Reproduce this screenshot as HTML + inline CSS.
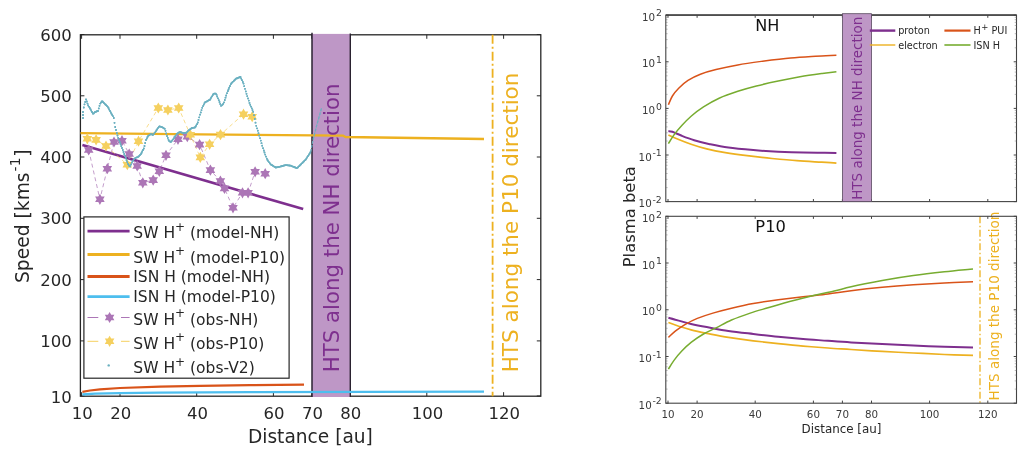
<!DOCTYPE html>
<html><head><meta charset="utf-8"><title>Figure</title>
<style>
html,body{margin:0;padding:0;background:#fff;}
svg{display:block;font-family:"DejaVu Sans","Liberation Sans",sans-serif;}
</style></head>
<body>
<svg width="1020" height="450" viewBox="0 0 1020 450">
<rect width="1020" height="450" fill="#fff"/>
<rect x="80.4" y="34.8" width="460.4" height="361.4" fill="none" stroke="#262626" stroke-width="1.3"/>
<line x1="81.6" y1="396.2" x2="81.6" y2="392.2" stroke="#262626" stroke-width="1"/>
<line x1="81.6" y1="34.8" x2="81.6" y2="38.8" stroke="#262626" stroke-width="1"/>
<text x="82.3" y="419" font-size="16.5" text-anchor="middle" fill="#262626">10</text>
<line x1="120.0" y1="396.2" x2="120.0" y2="392.2" stroke="#262626" stroke-width="1"/>
<line x1="120.0" y1="34.8" x2="120.0" y2="38.8" stroke="#262626" stroke-width="1"/>
<text x="120.7" y="419" font-size="16.5" text-anchor="middle" fill="#262626">20</text>
<line x1="196.7" y1="396.2" x2="196.7" y2="392.2" stroke="#262626" stroke-width="1"/>
<line x1="196.7" y1="34.8" x2="196.7" y2="38.8" stroke="#262626" stroke-width="1"/>
<text x="197.4" y="419" font-size="16.5" text-anchor="middle" fill="#262626">40</text>
<line x1="273.4" y1="396.2" x2="273.4" y2="392.2" stroke="#262626" stroke-width="1"/>
<line x1="273.4" y1="34.8" x2="273.4" y2="38.8" stroke="#262626" stroke-width="1"/>
<text x="274.1" y="419" font-size="16.5" text-anchor="middle" fill="#262626">60</text>
<line x1="311.8" y1="396.2" x2="311.8" y2="392.2" stroke="#262626" stroke-width="1"/>
<line x1="311.8" y1="34.8" x2="311.8" y2="38.8" stroke="#262626" stroke-width="1"/>
<text x="312.5" y="419" font-size="16.5" text-anchor="middle" fill="#262626">70</text>
<line x1="350.1" y1="396.2" x2="350.1" y2="392.2" stroke="#262626" stroke-width="1"/>
<line x1="350.1" y1="34.8" x2="350.1" y2="38.8" stroke="#262626" stroke-width="1"/>
<text x="350.8" y="419" font-size="16.5" text-anchor="middle" fill="#262626">80</text>
<line x1="426.8" y1="396.2" x2="426.8" y2="392.2" stroke="#262626" stroke-width="1"/>
<line x1="426.8" y1="34.8" x2="426.8" y2="38.8" stroke="#262626" stroke-width="1"/>
<text x="427.5" y="419" font-size="16.5" text-anchor="middle" fill="#262626">100</text>
<line x1="503.6" y1="396.2" x2="503.6" y2="392.2" stroke="#262626" stroke-width="1"/>
<line x1="503.6" y1="34.8" x2="503.6" y2="38.8" stroke="#262626" stroke-width="1"/>
<text x="504.3" y="419" font-size="16.5" text-anchor="middle" fill="#262626">120</text>
<line x1="80.4" y1="396.0" x2="84.4" y2="396.0" stroke="#262626" stroke-width="1"/>
<line x1="540.8" y1="396.0" x2="536.8" y2="396.0" stroke="#262626" stroke-width="1"/>
<text x="71.8" y="403.2" font-size="16.5" text-anchor="end" fill="#262626">10</text>
<line x1="80.4" y1="340.9" x2="84.4" y2="340.9" stroke="#262626" stroke-width="1"/>
<line x1="540.8" y1="340.9" x2="536.8" y2="340.9" stroke="#262626" stroke-width="1"/>
<text x="71.8" y="347.0" font-size="16.5" text-anchor="end" fill="#262626">100</text>
<line x1="80.4" y1="279.6" x2="84.4" y2="279.6" stroke="#262626" stroke-width="1"/>
<line x1="540.8" y1="279.6" x2="536.8" y2="279.6" stroke="#262626" stroke-width="1"/>
<text x="71.8" y="285.7" font-size="16.5" text-anchor="end" fill="#262626">200</text>
<line x1="80.4" y1="218.3" x2="84.4" y2="218.3" stroke="#262626" stroke-width="1"/>
<line x1="540.8" y1="218.3" x2="536.8" y2="218.3" stroke="#262626" stroke-width="1"/>
<text x="71.8" y="224.4" font-size="16.5" text-anchor="end" fill="#262626">300</text>
<line x1="80.4" y1="157.0" x2="84.4" y2="157.0" stroke="#262626" stroke-width="1"/>
<line x1="540.8" y1="157.0" x2="536.8" y2="157.0" stroke="#262626" stroke-width="1"/>
<text x="71.8" y="163.1" font-size="16.5" text-anchor="end" fill="#262626">400</text>
<line x1="80.4" y1="95.8" x2="84.4" y2="95.8" stroke="#262626" stroke-width="1"/>
<line x1="540.8" y1="95.8" x2="536.8" y2="95.8" stroke="#262626" stroke-width="1"/>
<text x="71.8" y="101.9" font-size="16.5" text-anchor="end" fill="#262626">500</text>
<line x1="80.4" y1="34.5" x2="84.4" y2="34.5" stroke="#262626" stroke-width="1"/>
<line x1="540.8" y1="34.5" x2="536.8" y2="34.5" stroke="#262626" stroke-width="1"/>
<text x="71.8" y="40.6" font-size="16.5" text-anchor="end" fill="#262626">600</text>
<rect x="312" y="33.9" width="38.3" height="363.1" fill="#be97c6"/>
<line x1="312" y1="32.8" x2="312" y2="397" stroke="#2a2230" stroke-width="1.5"/>
<line x1="350.3" y1="33.5" x2="350.3" y2="397" stroke="#2a2230" stroke-width="1.4"/>
<polyline points="80.5,133.2 200,134.4 343,135.6 345.5,137 484,139" fill="none" stroke="#EDB120" stroke-width="2.3"/>
<polyline points="82.4,145 303.2,209.1" fill="none" stroke="#7E2F8E" stroke-width="2.6"/>
<polyline points="82.4,391.8 90.0,390.5 100.0,389.4 120.0,388.0 160.0,386.7 200.0,385.8 250.0,385.1 304.0,384.6" fill="none" stroke="#D95319" stroke-width="2.2"/>
<polyline points="82.4,394.5 95.0,393.7 120.0,393.1 160.0,392.6 250.0,392.1 484.0,391.7" fill="none" stroke="#4DBEEE" stroke-width="2.3"/>
<polyline points="88.7,150.0 99.9,199.3 107.3,168.7 114.0,142.0 122.0,140.7 129.2,154.0 137.2,166.0 142.8,182.8 153.2,180.1 159.3,171.3 166.0,155.3 178.0,139.3 187.3,136.7 199.6,144.6 210.4,170.1 220.4,181.0 224.5,188.4 233.0,207.8 242.5,192.8 248.1,192.8 255.1,171.8 265.2,173.7" fill="none" stroke="#ac76b6" stroke-width="0.9" stroke-dasharray="4 3" opacity="0.8"/>
<polyline points="87.3,138.8 96.1,139.9 106.0,146.0 127.3,164.7 138.5,141.2 158.3,108.0 167.9,110.0 178.7,108.0 190.3,134.8 200.3,157.4 209.6,144.3 220.5,134.6 243.5,114.2 252.2,116.7" fill="none" stroke="#f5d05f" stroke-width="0.9" stroke-dasharray="4 3" opacity="0.8"/>
<polygon points="88.7,144.4 90.3,147.2 93.5,147.2 91.9,150.0 93.5,152.8 90.3,152.8 88.7,155.6 87.1,152.8 83.9,152.8 85.5,150.0 83.9,147.2 87.1,147.2" fill="#ac76b6"/>
<polygon points="99.9,193.7 101.5,196.5 104.7,196.5 103.1,199.3 104.7,202.1 101.5,202.1 99.9,204.9 98.3,202.1 95.1,202.1 96.7,199.3 95.1,196.5 98.3,196.5" fill="#ac76b6"/>
<polygon points="107.3,163.1 108.9,165.9 112.1,165.9 110.5,168.7 112.1,171.5 108.9,171.5 107.3,174.3 105.7,171.5 102.5,171.5 104.1,168.7 102.5,165.9 105.7,165.9" fill="#ac76b6"/>
<polygon points="114.0,136.4 115.6,139.2 118.8,139.2 117.2,142.0 118.8,144.8 115.6,144.8 114.0,147.6 112.4,144.8 109.2,144.8 110.8,142.0 109.2,139.2 112.4,139.2" fill="#ac76b6"/>
<polygon points="122.0,135.1 123.6,137.9 126.8,137.9 125.2,140.7 126.8,143.5 123.6,143.5 122.0,146.3 120.4,143.5 117.2,143.5 118.8,140.7 117.2,137.9 120.4,137.9" fill="#ac76b6"/>
<polygon points="129.2,148.4 130.8,151.2 134.0,151.2 132.4,154.0 134.0,156.8 130.8,156.8 129.2,159.6 127.6,156.8 124.4,156.8 126.0,154.0 124.4,151.2 127.6,151.2" fill="#ac76b6"/>
<polygon points="137.2,160.4 138.8,163.2 142.0,163.2 140.4,166.0 142.0,168.8 138.8,168.8 137.2,171.6 135.6,168.8 132.4,168.8 134.0,166.0 132.4,163.2 135.6,163.2" fill="#ac76b6"/>
<polygon points="142.8,177.2 144.4,180.0 147.6,180.0 146.0,182.8 147.6,185.6 144.4,185.6 142.8,188.4 141.2,185.6 138.0,185.6 139.6,182.8 138.0,180.0 141.2,180.0" fill="#ac76b6"/>
<polygon points="153.2,174.5 154.8,177.3 158.0,177.3 156.4,180.1 158.0,182.9 154.8,182.9 153.2,185.7 151.6,182.9 148.4,182.9 150.0,180.1 148.4,177.3 151.6,177.3" fill="#ac76b6"/>
<polygon points="159.3,165.7 160.9,168.5 164.1,168.5 162.5,171.3 164.1,174.1 160.9,174.1 159.3,176.9 157.7,174.1 154.5,174.1 156.1,171.3 154.5,168.5 157.7,168.5" fill="#ac76b6"/>
<polygon points="166.0,149.7 167.6,152.5 170.8,152.5 169.2,155.3 170.8,158.1 167.6,158.1 166.0,160.9 164.4,158.1 161.2,158.1 162.8,155.3 161.2,152.5 164.4,152.5" fill="#ac76b6"/>
<polygon points="178.0,133.7 179.6,136.5 182.8,136.5 181.2,139.3 182.8,142.1 179.6,142.1 178.0,144.9 176.4,142.1 173.2,142.1 174.8,139.3 173.2,136.5 176.4,136.5" fill="#ac76b6"/>
<polygon points="187.3,131.1 188.9,133.9 192.1,133.9 190.5,136.7 192.1,139.5 188.9,139.5 187.3,142.3 185.7,139.5 182.5,139.5 184.1,136.7 182.5,133.9 185.7,133.9" fill="#ac76b6"/>
<polygon points="199.6,139.0 201.2,141.8 204.4,141.8 202.8,144.6 204.4,147.4 201.2,147.4 199.6,150.2 198.0,147.4 194.8,147.4 196.4,144.6 194.8,141.8 198.0,141.8" fill="#ac76b6"/>
<polygon points="210.4,164.5 212.0,167.3 215.2,167.3 213.6,170.1 215.2,172.9 212.0,172.9 210.4,175.7 208.8,172.9 205.6,172.9 207.2,170.1 205.6,167.3 208.8,167.3" fill="#ac76b6"/>
<polygon points="220.4,175.4 222.0,178.2 225.2,178.2 223.6,181.0 225.2,183.8 222.0,183.8 220.4,186.6 218.8,183.8 215.6,183.8 217.2,181.0 215.6,178.2 218.8,178.2" fill="#ac76b6"/>
<polygon points="224.5,182.8 226.1,185.6 229.3,185.6 227.7,188.4 229.3,191.2 226.1,191.2 224.5,194.0 222.9,191.2 219.7,191.2 221.3,188.4 219.7,185.6 222.9,185.6" fill="#ac76b6"/>
<polygon points="233.0,202.2 234.6,205.0 237.8,205.0 236.2,207.8 237.8,210.6 234.6,210.6 233.0,213.4 231.4,210.6 228.2,210.6 229.8,207.8 228.2,205.0 231.4,205.0" fill="#ac76b6"/>
<polygon points="242.5,187.2 244.1,190.0 247.3,190.0 245.7,192.8 247.3,195.6 244.1,195.6 242.5,198.4 240.9,195.6 237.7,195.6 239.3,192.8 237.7,190.0 240.9,190.0" fill="#ac76b6"/>
<polygon points="248.1,187.2 249.7,190.0 252.9,190.0 251.3,192.8 252.9,195.6 249.7,195.6 248.1,198.4 246.5,195.6 243.3,195.6 244.9,192.8 243.3,190.0 246.5,190.0" fill="#ac76b6"/>
<polygon points="255.1,166.2 256.7,169.0 259.9,169.0 258.3,171.8 259.9,174.6 256.7,174.6 255.1,177.4 253.5,174.6 250.3,174.6 251.9,171.8 250.3,169.0 253.5,169.0" fill="#ac76b6"/>
<polygon points="265.2,168.1 266.8,170.9 270.0,170.9 268.4,173.7 270.0,176.5 266.8,176.5 265.2,179.3 263.6,176.5 260.4,176.5 262.0,173.7 260.4,170.9 263.6,170.9" fill="#ac76b6"/>
<polygon points="87.3,133.2 88.9,136.0 92.1,136.0 90.5,138.8 92.1,141.6 88.9,141.6 87.3,144.4 85.7,141.6 82.5,141.6 84.1,138.8 82.5,136.0 85.7,136.0" fill="#f5d05f"/>
<polygon points="96.1,134.3 97.7,137.1 100.9,137.1 99.3,139.9 100.9,142.7 97.7,142.7 96.1,145.5 94.5,142.7 91.3,142.7 92.9,139.9 91.3,137.1 94.5,137.1" fill="#f5d05f"/>
<polygon points="106.0,140.4 107.6,143.2 110.8,143.2 109.2,146.0 110.8,148.8 107.6,148.8 106.0,151.6 104.4,148.8 101.2,148.8 102.8,146.0 101.2,143.2 104.4,143.2" fill="#f5d05f"/>
<polygon points="127.3,159.1 128.9,161.9 132.1,161.9 130.5,164.7 132.1,167.5 128.9,167.5 127.3,170.3 125.7,167.5 122.5,167.5 124.1,164.7 122.5,161.9 125.7,161.9" fill="#f5d05f"/>
<polygon points="138.5,135.6 140.1,138.4 143.3,138.4 141.7,141.2 143.3,144.0 140.1,144.0 138.5,146.8 136.9,144.0 133.7,144.0 135.3,141.2 133.7,138.4 136.9,138.4" fill="#f5d05f"/>
<polygon points="158.3,102.4 159.9,105.2 163.1,105.2 161.5,108.0 163.1,110.8 159.9,110.8 158.3,113.6 156.7,110.8 153.5,110.8 155.1,108.0 153.5,105.2 156.7,105.2" fill="#f5d05f"/>
<polygon points="167.9,104.4 169.5,107.2 172.7,107.2 171.1,110.0 172.7,112.8 169.5,112.8 167.9,115.6 166.3,112.8 163.1,112.8 164.7,110.0 163.1,107.2 166.3,107.2" fill="#f5d05f"/>
<polygon points="178.7,102.4 180.3,105.2 183.5,105.2 181.9,108.0 183.5,110.8 180.3,110.8 178.7,113.6 177.1,110.8 173.9,110.8 175.5,108.0 173.9,105.2 177.1,105.2" fill="#f5d05f"/>
<polygon points="190.3,129.2 191.9,132.0 195.1,132.0 193.5,134.8 195.1,137.6 191.9,137.6 190.3,140.4 188.7,137.6 185.5,137.6 187.1,134.8 185.5,132.0 188.7,132.0" fill="#f5d05f"/>
<polygon points="200.3,151.8 201.9,154.6 205.1,154.6 203.5,157.4 205.1,160.2 201.9,160.2 200.3,163.0 198.7,160.2 195.5,160.2 197.1,157.4 195.5,154.6 198.7,154.6" fill="#f5d05f"/>
<polygon points="209.6,138.7 211.2,141.5 214.4,141.5 212.8,144.3 214.4,147.1 211.2,147.1 209.6,149.9 208.0,147.1 204.8,147.1 206.4,144.3 204.8,141.5 208.0,141.5" fill="#f5d05f"/>
<polygon points="220.5,129.0 222.1,131.8 225.3,131.8 223.7,134.6 225.3,137.4 222.1,137.4 220.5,140.2 218.9,137.4 215.7,137.4 217.3,134.6 215.7,131.8 218.9,131.8" fill="#f5d05f"/>
<polygon points="243.5,108.6 245.1,111.4 248.3,111.4 246.7,114.2 248.3,117.0 245.1,117.0 243.5,119.8 241.9,117.0 238.7,117.0 240.3,114.2 238.7,111.4 241.9,111.4" fill="#f5d05f"/>
<polygon points="252.2,111.1 253.8,113.9 257.0,113.9 255.4,116.7 257.0,119.5 253.8,119.5 252.2,122.3 250.6,119.5 247.4,119.5 249.0,116.7 247.4,113.9 250.6,113.9" fill="#f5d05f"/>
<path d="M83.0 118.0h.01M83.0 115.0h.01M83.0 112.0h.01M83.8 107.5h.01M84.5 104.3h.01M85.2 101.9h.01M86.0 99.4h.01M86.8 101.5h.01M87.5 103.6h.01M88.2 105.4h.01M89.0 106.7h.01M89.8 107.9h.01M90.5 109.2h.01M91.2 110.5h.01M92.0 112.0h.01M92.8 113.5h.01M93.5 113.5h.01M94.2 112.8h.01M95.0 112.0h.01M95.8 111.8h.01M96.5 111.5h.01M97.2 111.2h.01M98.0 111.0h.01M98.8 108.4h.01M99.5 105.8h.01M100.2 103.6h.01M101.0 102.5h.01M101.8 101.4h.01M102.5 101.5h.01M103.2 102.2h.01M104.0 103.0h.01M104.8 103.8h.01M105.5 104.5h.01M106.2 105.2h.01M107.0 106.0h.01M107.8 106.8h.01M108.5 108.0h.01M109.2 109.5h.01M110.0 111.0h.01M110.8 112.5h.01M111.5 113.8h.01M112.2 114.9h.01M113.0 116.1h.01M113.8 118.0h.01M114.5 122.8h.01M115.2 127.0h.01M116.0 130.0h.01M116.8 133.0h.01M117.5 135.5h.01M118.2 137.8h.01M119.0 140.0h.01M119.8 142.0h.01M120.5 144.0h.01M121.2 146.0h.01M122.0 148.0h.01M122.8 150.0h.01M123.5 152.0h.01M124.2 154.0h.01M125.0 156.0h.01M125.8 158.0h.01M126.5 160.0h.01M127.2 162.0h.01M128.0 164.0h.01M128.8 165.1h.01M129.5 166.2h.01M130.2 166.4h.01M131.0 164.5h.01M131.8 162.6h.01M132.5 161.3h.01M133.2 160.3h.01M134.0 159.3h.01M134.8 158.3h.01M135.5 157.8h.01M136.2 157.6h.01M137.0 157.3h.01M137.8 157.1h.01M138.5 156.5h.01M139.2 155.8h.01M140.0 155.0h.01M140.8 154.2h.01M141.5 153.0h.01M142.2 151.5h.01M143.0 150.0h.01M143.8 148.5h.01M144.5 146.0h.01M145.2 143.0h.01M146.0 140.0h.01M146.8 138.5h.01M147.5 137.0h.01M148.2 135.8h.01M149.0 135.3h.01M149.8 134.8h.01M150.5 134.3h.01M151.2 134.1h.01M152.0 134.5h.01M152.8 134.9h.01M153.5 134.3h.01M154.2 133.3h.01M155.0 132.3h.01M155.8 131.3h.01M156.5 130.2h.01M157.2 129.1h.01M158.0 127.9h.01M158.8 126.8h.01M159.5 126.5h.01M160.2 126.7h.01M161.0 126.8h.01M161.8 127.0h.01M162.5 127.3h.01M163.2 127.8h.01M164.0 128.3h.01M164.8 128.8h.01M165.5 130.8h.01M166.2 133.4h.01M167.0 136.0h.01M167.8 137.9h.01M168.5 139.8h.01M169.2 141.1h.01M170.0 141.5h.01M170.8 141.9h.01M171.5 141.3h.01M172.2 140.3h.01M173.0 139.3h.01M173.8 138.3h.01M174.5 137.3h.01M175.2 136.2h.01M176.0 135.1h.01M176.8 134.0h.01M177.5 133.3h.01M178.2 132.9h.01M179.0 132.5h.01M179.8 132.1h.01M180.5 132.2h.01M181.2 132.4h.01M182.0 132.7h.01M182.8 132.9h.01M183.5 133.0h.01M184.2 133.0h.01M185.0 133.0h.01M185.8 133.0h.01M186.5 132.5h.01M187.2 131.8h.01M188.0 131.0h.01M188.8 130.2h.01M189.5 129.7h.01M190.2 129.2h.01M191.0 128.7h.01M191.8 128.2h.01M192.5 127.9h.01M193.2 127.8h.01M194.0 127.7h.01M194.8 127.5h.01M195.5 126.7h.01M196.2 125.5h.01M197.0 124.2h.01M197.8 122.5h.01M198.5 119.9h.01M199.2 117.3h.01M200.0 114.7h.01M200.8 112.4h.01M201.5 110.1h.01M202.2 107.8h.01M203.0 106.1h.01M203.8 104.6h.01M204.5 103.1h.01M205.2 102.1h.01M206.0 101.8h.01M206.8 101.4h.01M207.5 101.0h.01M208.2 100.6h.01M209.0 100.2h.01M209.8 99.9h.01M210.5 98.8h.01M211.2 97.5h.01M212.0 96.3h.01M212.8 95.0h.01M213.5 93.8h.01M214.2 93.6h.01M215.0 93.6h.01M215.8 93.6h.01M216.5 94.6h.01M217.2 96.5h.01M218.0 98.3h.01M218.8 100.2h.01M219.5 102.0h.01M220.2 103.9h.01M221.0 105.8h.01M221.8 105.3h.01M222.5 104.6h.01M223.2 103.8h.01M224.0 102.3h.01M224.8 100.0h.01M225.5 97.7h.01M226.2 95.5h.01M227.0 93.2h.01M227.8 91.2h.01M228.5 89.5h.01M229.2 87.7h.01M230.0 86.0h.01M230.8 84.2h.01M231.5 83.1h.01M232.2 82.4h.01M233.0 81.6h.01M233.8 80.9h.01M234.5 80.2h.01M235.2 79.4h.01M236.0 78.7h.01M236.8 78.4h.01M237.5 78.1h.01M238.2 77.8h.01M239.0 77.5h.01M239.8 77.2h.01M240.5 76.9h.01M241.2 78.6h.01M242.0 80.2h.01M242.8 81.9h.01M243.5 83.6h.01M244.2 86.2h.01M245.0 88.8h.01M245.8 91.4h.01M246.5 93.8h.01M247.2 96.1h.01M248.0 98.4h.01M248.8 100.6h.01M249.5 102.9h.01M250.2 104.8h.01M251.0 106.6h.01M251.8 108.3h.01M252.5 110.1h.01M253.2 111.8h.01M254.0 115.2h.01M254.8 118.9h.01M255.5 122.7h.01M256.2 125.8h.01M257.0 128.3h.01M257.8 130.7h.01M258.5 133.2h.01M259.2 135.6h.01M260.0 138.1h.01M260.8 140.6h.01M261.5 143.2h.01M262.2 145.7h.01M263.0 148.2h.01M263.8 150.5h.01M264.5 152.5h.01M265.2 154.6h.01M266.0 156.6h.01M266.8 158.6h.01M267.5 160.0h.01M268.2 161.1h.01M269.0 162.1h.01M269.8 163.1h.01M270.5 164.1h.01M271.2 164.8h.01M272.0 165.2h.01M272.8 165.7h.01M273.5 166.1h.01M274.2 166.6h.01M275.0 167.0h.01M275.8 167.5h.01M276.5 167.4h.01M277.2 167.2h.01M278.0 167.1h.01M278.8 166.9h.01M279.5 166.8h.01M280.2 166.6h.01M281.0 166.4h.01M281.8 166.2h.01M282.5 166.0h.01M283.2 165.8h.01M284.0 165.5h.01M284.8 165.3h.01M285.5 165.1h.01M286.2 165.1h.01M287.0 165.2h.01M287.8 165.3h.01M288.5 165.4h.01M289.2 165.5h.01M290.0 165.6h.01M290.8 165.7h.01M291.5 166.0h.01M292.2 166.3h.01M293.0 166.6h.01M293.8 166.9h.01M294.5 167.2h.01M295.2 167.5h.01M296.0 167.8h.01M296.8 168.1h.01M297.5 167.7h.01M298.2 166.9h.01M299.0 166.2h.01M299.8 165.4h.01M300.5 164.7h.01M301.2 163.9h.01M302.0 163.2h.01M302.8 162.4h.01M303.5 161.7h.01M304.2 160.9h.01M305.0 160.2h.01M305.8 159.4h.01M306.5 158.3h.01M307.2 157.1h.01M308.0 156.0h.01M308.8 154.8h.01M309.5 153.7h.01M310.2 152.5h.01" fill="none" stroke="#6ab0c0" stroke-width="1.8" stroke-linecap="round"/>
<polyline points="310.6,152.0 313.1,139.6 316.9,124.7 321.8,107.3" fill="none" stroke="#6ab0c0" stroke-width="1.1" stroke-linejoin="round" stroke-dasharray="3 1.2" opacity="0.8"/>
<line x1="492.6" y1="34.8" x2="492.6" y2="396.2" stroke="#EDB120" stroke-width="1.8" stroke-dasharray="9 3 2 3"/>
<text x="310.4" y="442.8" font-size="18.6" text-anchor="middle" fill="#262626">Distance [au]</text>
<text transform="translate(28.6,283) rotate(-90)" font-size="18.7" text-anchor="start" fill="#262626">Speed [kms<tspan dy="-8.5" dx="1" font-size="14">-1</tspan><tspan dy="8.5" dx="0.8">]</tspan></text>
<text transform="translate(339,372.3) rotate(-90)" font-size="21.3" text-anchor="start" fill="#7E2F8E">HTS along the NH direction</text>
<text transform="translate(518,372.3) rotate(-90)" font-size="21.5" text-anchor="start" fill="#EDB120">HTS along the P10 direction</text>
<rect x="83.9" y="216.9" width="205.2" height="161.3" fill="#fff" stroke="#262626" stroke-width="1.2"/>
<line x1="87.5" y1="231.2" x2="129.6" y2="231.2" stroke="#7E2F8E" stroke-width="2.8"/>
<text x="133.3" y="238.4" font-size="15.5" fill="#262626">SW H<tspan dy="-7.5" dx="0" font-size="12">+</tspan><tspan dy="7.5"> (model-NH)</tspan></text>
<line x1="87.5" y1="254.5" x2="129.6" y2="254.5" stroke="#EDB120" stroke-width="2.8"/>
<text x="133.3" y="262.6" font-size="15.5" fill="#262626">SW H<tspan dy="-7.5" dx="0" font-size="12">+</tspan><tspan dy="7.5"> (model-P10)</tspan></text>
<line x1="87.5" y1="276.5" x2="129.6" y2="276.5" stroke="#D95319" stroke-width="2.8"/>
<text x="133.3" y="282" font-size="15.5" fill="#262626">ISN H (model-NH)</text>
<line x1="87.5" y1="296.6" x2="129.6" y2="296.6" stroke="#4DBEEE" stroke-width="2.8"/>
<text x="133.3" y="302.2" font-size="15.5" fill="#262626">ISN H (model-P10)</text>
<line x1="87.5" y1="317.5" x2="98.3" y2="317.5" stroke="#ac76b6" stroke-width="1"/>
<line x1="121" y1="317.5" x2="129.6" y2="317.5" stroke="#ac76b6" stroke-width="1"/>
<polygon points="109.6,311.9 111.2,314.7 114.4,314.7 112.8,317.5 114.4,320.3 111.2,320.3 109.6,323.1 108.0,320.3 104.8,320.3 106.4,317.5 104.8,314.7 108.0,314.7" fill="#ac76b6"/>
<text x="133.3" y="324.9" font-size="15.5" fill="#262626">SW H<tspan dy="-7.5" dx="0" font-size="12">+</tspan><tspan dy="7.5"> (obs-NH)</tspan></text>
<line x1="87.5" y1="341.3" x2="98.3" y2="341.3" stroke="#f5d05f" stroke-width="1"/>
<line x1="121" y1="341.3" x2="129.6" y2="341.3" stroke="#f5d05f" stroke-width="1"/>
<polygon points="109.6,335.7 111.2,338.5 114.4,338.5 112.8,341.3 114.4,344.1 111.2,344.1 109.6,346.9 108.0,344.1 104.8,344.1 106.4,341.3 104.8,338.5 108.0,338.5" fill="#f5d05f"/>
<text x="133.3" y="348.7" font-size="15.5" fill="#262626">SW H<tspan dy="-7.5" dx="0" font-size="12">+</tspan><tspan dy="7.5"> (obs-P10)</tspan></text>
<circle cx="108.7" cy="365.4" r="1.2" fill="#6ab0c0"/>
<text x="133.3" y="373.1" font-size="15.5" fill="#262626">SW H<tspan dy="-7.5" dx="0" font-size="12">+</tspan><tspan dy="7.5"> (obs-V2)</tspan></text>
<path d="M668.4 131.1C669.1 131.2 670.2 131.0 672.4 131.8C674.6 132.6 678.2 134.4 681.8 135.8C685.4 137.2 689.5 138.8 694.2 140.2C698.9 141.6 704.1 143.0 709.8 144.2C715.5 145.4 721.1 146.6 728.4 147.6C735.6 148.6 745.0 149.4 753.3 150.1C761.6 150.8 769.9 151.3 778.2 151.7C786.5 152.1 793.4 152.4 803.1 152.6C812.8 152.8 830.9 152.8 836.4 152.9" fill="none" stroke="#7E2F8E" stroke-width="2.0" stroke-linejoin="round"/>
<path d="M668.4 317.8C670.1 318.3 674.9 319.6 678.7 320.6C682.5 321.6 686.4 322.9 691.1 324.0C695.8 325.1 700.5 326.0 706.7 327.1C712.9 328.2 720.6 329.8 728.4 330.9C736.2 332.0 745.0 333.0 753.3 334.0C761.6 335.0 769.9 336.0 778.2 336.8C786.5 337.6 794.8 338.3 803.1 339.0C811.4 339.7 820.0 340.2 828.0 340.8C836.0 341.4 842.1 341.9 851.1 342.4C860.1 342.9 871.8 343.4 882.2 343.9C892.6 344.4 902.9 345.0 913.3 345.5C923.7 346.0 934.4 346.4 944.4 346.7C954.4 347.0 968.2 347.3 973.0 347.4" fill="none" stroke="#7E2F8E" stroke-width="2.0" stroke-linejoin="round"/>
<path d="M668.4 134.9C670.1 135.7 674.9 137.9 678.7 139.5C682.5 141.1 686.4 142.6 691.1 144.2C695.8 145.8 701.0 147.5 706.7 148.9C712.4 150.3 718.6 151.5 725.3 152.6C732.0 153.7 739.3 154.7 747.1 155.7C754.9 156.7 763.7 157.7 772.0 158.5C780.3 159.3 788.6 160.1 796.9 160.7C805.2 161.3 815.1 161.8 821.7 162.2C828.3 162.6 834.0 163.0 836.4 163.2" fill="none" stroke="#EDB120" stroke-width="1.7" stroke-linejoin="round"/>
<path d="M668.4 322.5C670.1 323.1 674.9 325.0 678.7 326.2C682.5 327.4 686.4 328.7 691.1 329.9C695.8 331.1 700.5 332.1 706.7 333.4C712.9 334.6 720.6 336.2 728.4 337.4C736.2 338.6 745.0 339.8 753.3 340.8C761.6 341.8 769.9 342.7 778.2 343.6C786.5 344.5 794.8 345.4 803.1 346.1C811.4 346.8 820.0 347.4 828.0 348.0C836.0 348.6 842.1 348.9 851.1 349.5C860.1 350.1 871.8 350.8 882.2 351.4C892.6 352.0 902.9 352.5 913.3 353.0C923.7 353.5 934.4 354.1 944.4 354.5C954.4 354.9 968.2 355.2 973.0 355.4" fill="none" stroke="#EDB120" stroke-width="1.7" stroke-linejoin="round"/>
<path d="M668.4 104.7C669.1 103.2 670.7 98.8 672.4 96.0C674.1 93.2 676.1 90.8 678.7 88.2C681.3 85.6 684.4 82.7 688.0 80.4C691.6 78.1 695.7 76.0 700.4 74.2C705.1 72.4 709.8 71.0 716.0 69.5C722.2 68.0 730.0 66.3 737.8 64.9C745.6 63.5 753.8 62.4 762.6 61.2C771.4 60.1 781.8 58.8 790.6 58.0C799.4 57.2 807.9 56.7 815.5 56.2C823.1 55.7 832.9 55.4 836.4 55.2" fill="none" stroke="#D95319" stroke-width="1.5" stroke-linejoin="round"/>
<path d="M668.4 337.4C669.6 336.3 672.9 333.0 675.6 330.9C678.4 328.8 681.3 326.7 684.9 324.6C688.5 322.5 692.6 320.3 697.3 318.4C702.0 316.5 707.2 314.8 712.9 313.1C718.6 311.4 724.8 309.8 731.5 308.2C738.2 306.6 745.5 304.9 753.3 303.5C761.1 302.1 769.9 300.9 778.2 299.8C786.5 298.7 794.8 297.7 803.1 296.7C811.4 295.7 820.0 294.9 828.0 293.9C836.0 292.9 842.1 291.8 851.1 290.7C860.1 289.6 871.8 288.3 882.2 287.3C892.6 286.3 902.9 285.5 913.3 284.8C923.7 284.1 934.4 283.5 944.4 283.0C954.4 282.5 968.2 281.9 973.0 281.7" fill="none" stroke="#D95319" stroke-width="1.5" stroke-linejoin="round"/>
<path d="M668.4 143.6C669.3 142.2 671.8 137.9 674.0 134.9C676.2 131.9 678.9 128.6 681.8 125.5C684.6 122.4 687.5 119.3 691.1 116.2C694.7 113.1 698.8 109.9 703.5 106.9C708.2 103.9 713.4 100.8 719.1 98.2C724.8 95.6 731.6 93.3 737.8 91.3C744.0 89.3 749.7 87.7 756.4 86.0C763.1 84.3 770.9 82.6 778.2 81.1C785.5 79.5 792.8 78.0 800.0 76.7C807.2 75.5 815.6 74.4 821.7 73.6C827.8 72.8 834.0 72.0 836.4 71.7" fill="none" stroke="#77AC30" stroke-width="1.5" stroke-linejoin="round"/>
<path d="M668.4 369.1C669.3 367.7 671.8 363.4 674.0 360.4C676.2 357.4 678.9 354.1 681.8 351.1C684.6 348.1 687.5 345.2 691.1 342.4C694.7 339.5 699.4 336.4 703.5 334.0C707.6 331.6 711.3 330.1 716.0 327.8C720.7 325.5 725.8 322.4 731.5 320.0C737.2 317.6 744.0 315.2 750.2 313.1C756.4 311.0 762.2 309.5 768.9 307.5C775.6 305.5 783.4 303.3 790.6 301.3C797.9 299.3 805.1 297.4 812.4 295.7C819.7 294.0 827.8 292.6 834.2 291.1C840.7 289.6 843.1 288.5 851.1 286.7C859.1 284.9 871.8 282.4 882.2 280.5C892.6 278.6 902.9 276.9 913.3 275.5C923.7 274.1 934.4 272.9 944.4 271.8C954.4 270.7 968.2 269.5 973.0 269.0" fill="none" stroke="#77AC30" stroke-width="1.5" stroke-linejoin="round"/>
<path d="M83.0 118.0h.01M83.0 115.0h.01M83.0 112.0h.01M83.8 107.5h.01M84.5 104.3h.01M85.2 101.9h.01M86.0 99.4h.01M86.8 101.5h.01M87.5 103.6h.01M88.2 105.4h.01M89.0 106.7h.01M89.8 107.9h.01M90.5 109.2h.01M91.2 110.5h.01M92.0 112.0h.01M92.8 113.5h.01M93.5 113.5h.01M94.2 112.8h.01M95.0 112.0h.01M95.8 111.8h.01M96.5 111.5h.01M97.2 111.2h.01M98.0 111.0h.01M98.8 108.4h.01M99.5 105.8h.01M100.2 103.6h.01M101.0 102.5h.01M101.8 101.4h.01M102.5 101.5h.01M103.2 102.2h.01M104.0 103.0h.01M104.8 103.8h.01M105.5 104.5h.01M106.2 105.2h.01M107.0 106.0h.01M107.8 106.8h.01M108.5 108.0h.01M109.2 109.5h.01M110.0 111.0h.01M110.8 112.5h.01M111.5 113.8h.01M112.2 114.9h.01M113.0 116.1h.01M113.8 118.0h.01M114.5 122.8h.01M115.2 127.0h.01M116.0 130.0h.01M116.8 133.0h.01M117.5 135.5h.01M118.2 137.8h.01M119.0 140.0h.01M119.8 142.0h.01M120.5 144.0h.01M121.2 146.0h.01M122.0 148.0h.01M122.8 150.0h.01M123.5 152.0h.01M124.2 154.0h.01M125.0 156.0h.01M125.8 158.0h.01M126.5 160.0h.01M127.2 162.0h.01M128.0 164.0h.01M128.8 165.1h.01M129.5 166.2h.01M130.2 166.4h.01M131.0 164.5h.01M131.8 162.6h.01M132.5 161.3h.01M133.2 160.3h.01M134.0 159.3h.01M134.8 158.3h.01M135.5 157.8h.01M136.2 157.6h.01M137.0 157.3h.01M137.8 157.1h.01M138.5 156.5h.01M139.2 155.8h.01M140.0 155.0h.01M140.8 154.2h.01M141.5 153.0h.01M142.2 151.5h.01M143.0 150.0h.01M143.8 148.5h.01M144.5 146.0h.01M145.2 143.0h.01M146.0 140.0h.01M146.8 138.5h.01M147.5 137.0h.01M148.2 135.8h.01M149.0 135.3h.01M149.8 134.8h.01M150.5 134.3h.01M151.2 134.1h.01M152.0 134.5h.01M152.8 134.9h.01M153.5 134.3h.01M154.2 133.3h.01M155.0 132.3h.01M155.8 131.3h.01M156.5 130.2h.01M157.2 129.1h.01M158.0 127.9h.01M158.8 126.8h.01M159.5 126.5h.01M160.2 126.7h.01M161.0 126.8h.01M161.8 127.0h.01M162.5 127.3h.01M163.2 127.8h.01M164.0 128.3h.01M164.8 128.8h.01M165.5 130.8h.01M166.2 133.4h.01M167.0 136.0h.01M167.8 137.9h.01M168.5 139.8h.01M169.2 141.1h.01M170.0 141.5h.01M170.8 141.9h.01M171.5 141.3h.01M172.2 140.3h.01M173.0 139.3h.01M173.8 138.3h.01M174.5 137.3h.01M175.2 136.2h.01M176.0 135.1h.01M176.8 134.0h.01M177.5 133.3h.01M178.2 132.9h.01M179.0 132.5h.01M179.8 132.1h.01M180.5 132.2h.01M181.2 132.4h.01M182.0 132.7h.01M182.8 132.9h.01M183.5 133.0h.01M184.2 133.0h.01M185.0 133.0h.01M185.8 133.0h.01M186.5 132.5h.01M187.2 131.8h.01M188.0 131.0h.01M188.8 130.2h.01M189.5 129.7h.01M190.2 129.2h.01M191.0 128.7h.01M191.8 128.2h.01M192.5 127.9h.01M193.2 127.8h.01M194.0 127.7h.01M194.8 127.5h.01M195.5 126.7h.01M196.2 125.5h.01M197.0 124.2h.01M197.8 122.5h.01M198.5 119.9h.01M199.2 117.3h.01M200.0 114.7h.01M200.8 112.4h.01M201.5 110.1h.01M202.2 107.8h.01M203.0 106.1h.01M203.8 104.6h.01M204.5 103.1h.01M205.2 102.1h.01M206.0 101.8h.01M206.8 101.4h.01M207.5 101.0h.01M208.2 100.6h.01M209.0 100.2h.01M209.8 99.9h.01M210.5 98.8h.01M211.2 97.5h.01M212.0 96.3h.01M212.8 95.0h.01M213.5 93.8h.01M214.2 93.6h.01M215.0 93.6h.01M215.8 93.6h.01M216.5 94.6h.01M217.2 96.5h.01M218.0 98.3h.01M218.8 100.2h.01M219.5 102.0h.01M220.2 103.9h.01M221.0 105.8h.01M221.8 105.3h.01M222.5 104.6h.01M223.2 103.8h.01M224.0 102.3h.01M224.8 100.0h.01M225.5 97.7h.01M226.2 95.5h.01M227.0 93.2h.01M227.8 91.2h.01M228.5 89.5h.01M229.2 87.7h.01M230.0 86.0h.01M230.8 84.2h.01M231.5 83.1h.01M232.2 82.4h.01M233.0 81.6h.01M233.8 80.9h.01M234.5 80.2h.01M235.2 79.4h.01M236.0 78.7h.01M236.8 78.4h.01M237.5 78.1h.01M238.2 77.8h.01M239.0 77.5h.01M239.8 77.2h.01M240.5 76.9h.01M241.2 78.6h.01M242.0 80.2h.01M242.8 81.9h.01M243.5 83.6h.01M244.2 86.2h.01M245.0 88.8h.01M245.8 91.4h.01M246.5 93.8h.01M247.2 96.1h.01M248.0 98.4h.01M248.8 100.6h.01M249.5 102.9h.01M250.2 104.8h.01M251.0 106.6h.01M251.8 108.3h.01M252.5 110.1h.01M253.2 111.8h.01M254.0 115.2h.01M254.8 118.9h.01M255.5 122.7h.01M256.2 125.8h.01M257.0 128.3h.01M257.8 130.7h.01M258.5 133.2h.01M259.2 135.6h.01M260.0 138.1h.01M260.8 140.6h.01M261.5 143.2h.01M262.2 145.7h.01M263.0 148.2h.01M263.8 150.5h.01M264.5 152.5h.01M265.2 154.6h.01M266.0 156.6h.01M266.8 158.6h.01M267.5 160.0h.01M268.2 161.1h.01M269.0 162.1h.01M269.8 163.1h.01M270.5 164.1h.01M271.2 164.8h.01M272.0 165.2h.01M272.8 165.7h.01M273.5 166.1h.01M274.2 166.6h.01M275.0 167.0h.01M275.8 167.5h.01M276.5 167.4h.01M277.2 167.2h.01M278.0 167.1h.01M278.8 166.9h.01M279.5 166.8h.01M280.2 166.6h.01M281.0 166.4h.01M281.8 166.2h.01M282.5 166.0h.01M283.2 165.8h.01M284.0 165.5h.01M284.8 165.3h.01M285.5 165.1h.01M286.2 165.1h.01M287.0 165.2h.01M287.8 165.3h.01M288.5 165.4h.01M289.2 165.5h.01M290.0 165.6h.01M290.8 165.7h.01M291.5 166.0h.01M292.2 166.3h.01M293.0 166.6h.01M293.8 166.9h.01M294.5 167.2h.01M295.2 167.5h.01M296.0 167.8h.01M296.8 168.1h.01M297.5 167.7h.01M298.2 166.9h.01M299.0 166.2h.01M299.8 165.4h.01M300.5 164.7h.01M301.2 163.9h.01M302.0 163.2h.01M302.8 162.4h.01M303.5 161.7h.01M304.2 160.9h.01M305.0 160.2h.01M305.8 159.4h.01M306.5 158.3h.01M307.2 157.1h.01M308.0 156.0h.01M308.8 154.8h.01M309.5 153.7h.01M310.2 152.5h.01" fill="none" stroke="#6ab0c0" stroke-width="1.8" stroke-linecap="round"/>
<polyline points="310.6,152.0 313.1,139.6 316.9,124.7 321.8,107.3" fill="none" stroke="#6ab0c0" stroke-width="1.1" stroke-linejoin="round" stroke-dasharray="3 1.2" opacity="0.8"/>
<line x1="980" y1="216.3" x2="980" y2="403.2" stroke="#EDB120" stroke-width="1.3" stroke-dasharray="7 2.5 1.5 2.5"/>
<text transform="translate(998.5,400.4) rotate(-90)" font-size="13.55" text-anchor="start" fill="#EDB120">HTS along the P10 direction</text>
<line x1="665.8" y1="14.9" x2="1016.5" y2="14.9" stroke="#444" stroke-width="1.5"/>
<rect x="665.8" y="15.2" width="350.70000000000005" height="186.4" fill="none" stroke="#444" stroke-width="1.1"/>
<line x1="665.8" y1="15.2" x2="668.5999999999999" y2="15.2" stroke="#444" stroke-width="1"/>
<line x1="1016.5" y1="15.2" x2="1013.7" y2="15.2" stroke="#444" stroke-width="1"/>
<text x="661.8" y="20.7" font-size="10.3" text-anchor="end" fill="#3a3a3a">10<tspan dy="-4.3" dx="0.8" font-size="9.3">2</tspan></text>
<line x1="665.8" y1="47.8" x2="667.5999999999999" y2="47.8" stroke="#777" stroke-width="0.5"/>
<line x1="1016.5" y1="47.8" x2="1014.7" y2="47.8" stroke="#777" stroke-width="0.5"/>
<line x1="665.8" y1="39.6" x2="667.5999999999999" y2="39.6" stroke="#777" stroke-width="0.5"/>
<line x1="1016.5" y1="39.6" x2="1014.7" y2="39.6" stroke="#777" stroke-width="0.5"/>
<line x1="665.8" y1="33.7" x2="667.5999999999999" y2="33.7" stroke="#777" stroke-width="0.5"/>
<line x1="1016.5" y1="33.7" x2="1014.7" y2="33.7" stroke="#777" stroke-width="0.5"/>
<line x1="665.8" y1="29.2" x2="667.5999999999999" y2="29.2" stroke="#777" stroke-width="0.5"/>
<line x1="1016.5" y1="29.2" x2="1014.7" y2="29.2" stroke="#777" stroke-width="0.5"/>
<line x1="665.8" y1="25.5" x2="667.5999999999999" y2="25.5" stroke="#777" stroke-width="0.5"/>
<line x1="1016.5" y1="25.5" x2="1014.7" y2="25.5" stroke="#777" stroke-width="0.5"/>
<line x1="665.8" y1="22.4" x2="667.5999999999999" y2="22.4" stroke="#777" stroke-width="0.5"/>
<line x1="1016.5" y1="22.4" x2="1014.7" y2="22.4" stroke="#777" stroke-width="0.5"/>
<line x1="665.8" y1="19.7" x2="667.5999999999999" y2="19.7" stroke="#777" stroke-width="0.5"/>
<line x1="1016.5" y1="19.7" x2="1014.7" y2="19.7" stroke="#777" stroke-width="0.5"/>
<line x1="665.8" y1="17.3" x2="667.5999999999999" y2="17.3" stroke="#777" stroke-width="0.5"/>
<line x1="1016.5" y1="17.3" x2="1014.7" y2="17.3" stroke="#777" stroke-width="0.5"/>
<line x1="665.8" y1="61.8" x2="668.5999999999999" y2="61.8" stroke="#444" stroke-width="1"/>
<line x1="1016.5" y1="61.8" x2="1013.7" y2="61.8" stroke="#444" stroke-width="1"/>
<text x="661.8" y="67.3" font-size="10.3" text-anchor="end" fill="#3a3a3a">10<tspan dy="-4.3" dx="0.8" font-size="9.3">1</tspan></text>
<line x1="665.8" y1="94.4" x2="667.5999999999999" y2="94.4" stroke="#777" stroke-width="0.5"/>
<line x1="1016.5" y1="94.4" x2="1014.7" y2="94.4" stroke="#777" stroke-width="0.5"/>
<line x1="665.8" y1="86.2" x2="667.5999999999999" y2="86.2" stroke="#777" stroke-width="0.5"/>
<line x1="1016.5" y1="86.2" x2="1014.7" y2="86.2" stroke="#777" stroke-width="0.5"/>
<line x1="665.8" y1="80.3" x2="667.5999999999999" y2="80.3" stroke="#777" stroke-width="0.5"/>
<line x1="1016.5" y1="80.3" x2="1014.7" y2="80.3" stroke="#777" stroke-width="0.5"/>
<line x1="665.8" y1="75.8" x2="667.5999999999999" y2="75.8" stroke="#777" stroke-width="0.5"/>
<line x1="1016.5" y1="75.8" x2="1014.7" y2="75.8" stroke="#777" stroke-width="0.5"/>
<line x1="665.8" y1="72.1" x2="667.5999999999999" y2="72.1" stroke="#777" stroke-width="0.5"/>
<line x1="1016.5" y1="72.1" x2="1014.7" y2="72.1" stroke="#777" stroke-width="0.5"/>
<line x1="665.8" y1="69.0" x2="667.5999999999999" y2="69.0" stroke="#777" stroke-width="0.5"/>
<line x1="1016.5" y1="69.0" x2="1014.7" y2="69.0" stroke="#777" stroke-width="0.5"/>
<line x1="665.8" y1="66.3" x2="667.5999999999999" y2="66.3" stroke="#777" stroke-width="0.5"/>
<line x1="1016.5" y1="66.3" x2="1014.7" y2="66.3" stroke="#777" stroke-width="0.5"/>
<line x1="665.8" y1="63.9" x2="667.5999999999999" y2="63.9" stroke="#777" stroke-width="0.5"/>
<line x1="1016.5" y1="63.9" x2="1014.7" y2="63.9" stroke="#777" stroke-width="0.5"/>
<line x1="665.8" y1="108.4" x2="668.5999999999999" y2="108.4" stroke="#444" stroke-width="1"/>
<line x1="1016.5" y1="108.4" x2="1013.7" y2="108.4" stroke="#444" stroke-width="1"/>
<text x="661.8" y="113.9" font-size="10.3" text-anchor="end" fill="#3a3a3a">10<tspan dy="-4.3" dx="0.8" font-size="9.3">0</tspan></text>
<line x1="665.8" y1="141.0" x2="667.5999999999999" y2="141.0" stroke="#777" stroke-width="0.5"/>
<line x1="1016.5" y1="141.0" x2="1014.7" y2="141.0" stroke="#777" stroke-width="0.5"/>
<line x1="665.8" y1="132.8" x2="667.5999999999999" y2="132.8" stroke="#777" stroke-width="0.5"/>
<line x1="1016.5" y1="132.8" x2="1014.7" y2="132.8" stroke="#777" stroke-width="0.5"/>
<line x1="665.8" y1="126.9" x2="667.5999999999999" y2="126.9" stroke="#777" stroke-width="0.5"/>
<line x1="1016.5" y1="126.9" x2="1014.7" y2="126.9" stroke="#777" stroke-width="0.5"/>
<line x1="665.8" y1="122.4" x2="667.5999999999999" y2="122.4" stroke="#777" stroke-width="0.5"/>
<line x1="1016.5" y1="122.4" x2="1014.7" y2="122.4" stroke="#777" stroke-width="0.5"/>
<line x1="665.8" y1="118.7" x2="667.5999999999999" y2="118.7" stroke="#777" stroke-width="0.5"/>
<line x1="1016.5" y1="118.7" x2="1014.7" y2="118.7" stroke="#777" stroke-width="0.5"/>
<line x1="665.8" y1="115.6" x2="667.5999999999999" y2="115.6" stroke="#777" stroke-width="0.5"/>
<line x1="1016.5" y1="115.6" x2="1014.7" y2="115.6" stroke="#777" stroke-width="0.5"/>
<line x1="665.8" y1="112.9" x2="667.5999999999999" y2="112.9" stroke="#777" stroke-width="0.5"/>
<line x1="1016.5" y1="112.9" x2="1014.7" y2="112.9" stroke="#777" stroke-width="0.5"/>
<line x1="665.8" y1="110.5" x2="667.5999999999999" y2="110.5" stroke="#777" stroke-width="0.5"/>
<line x1="1016.5" y1="110.5" x2="1014.7" y2="110.5" stroke="#777" stroke-width="0.5"/>
<line x1="665.8" y1="155.0" x2="668.5999999999999" y2="155.0" stroke="#444" stroke-width="1"/>
<line x1="1016.5" y1="155.0" x2="1013.7" y2="155.0" stroke="#444" stroke-width="1"/>
<text x="661.8" y="160.5" font-size="10.3" text-anchor="end" fill="#3a3a3a">10<tspan dy="-4.3" dx="0.8" font-size="9.3">-1</tspan></text>
<line x1="665.8" y1="187.6" x2="667.5999999999999" y2="187.6" stroke="#777" stroke-width="0.5"/>
<line x1="1016.5" y1="187.6" x2="1014.7" y2="187.6" stroke="#777" stroke-width="0.5"/>
<line x1="665.8" y1="179.4" x2="667.5999999999999" y2="179.4" stroke="#777" stroke-width="0.5"/>
<line x1="1016.5" y1="179.4" x2="1014.7" y2="179.4" stroke="#777" stroke-width="0.5"/>
<line x1="665.8" y1="173.5" x2="667.5999999999999" y2="173.5" stroke="#777" stroke-width="0.5"/>
<line x1="1016.5" y1="173.5" x2="1014.7" y2="173.5" stroke="#777" stroke-width="0.5"/>
<line x1="665.8" y1="169.0" x2="667.5999999999999" y2="169.0" stroke="#777" stroke-width="0.5"/>
<line x1="1016.5" y1="169.0" x2="1014.7" y2="169.0" stroke="#777" stroke-width="0.5"/>
<line x1="665.8" y1="165.3" x2="667.5999999999999" y2="165.3" stroke="#777" stroke-width="0.5"/>
<line x1="1016.5" y1="165.3" x2="1014.7" y2="165.3" stroke="#777" stroke-width="0.5"/>
<line x1="665.8" y1="162.2" x2="667.5999999999999" y2="162.2" stroke="#777" stroke-width="0.5"/>
<line x1="1016.5" y1="162.2" x2="1014.7" y2="162.2" stroke="#777" stroke-width="0.5"/>
<line x1="665.8" y1="159.5" x2="667.5999999999999" y2="159.5" stroke="#777" stroke-width="0.5"/>
<line x1="1016.5" y1="159.5" x2="1014.7" y2="159.5" stroke="#777" stroke-width="0.5"/>
<line x1="665.8" y1="157.1" x2="667.5999999999999" y2="157.1" stroke="#777" stroke-width="0.5"/>
<line x1="1016.5" y1="157.1" x2="1014.7" y2="157.1" stroke="#777" stroke-width="0.5"/>
<line x1="665.8" y1="201.6" x2="668.5999999999999" y2="201.6" stroke="#444" stroke-width="1"/>
<line x1="1016.5" y1="201.6" x2="1013.7" y2="201.6" stroke="#444" stroke-width="1"/>
<text x="661.8" y="207.1" font-size="10.3" text-anchor="end" fill="#3a3a3a">10<tspan dy="-4.3" dx="0.8" font-size="9.3">-2</tspan></text>
<line x1="668.0" y1="201.6" x2="668.0" y2="199.0" stroke="#444" stroke-width="1"/>
<line x1="668.0" y1="15.2" x2="668.0" y2="17.8" stroke="#444" stroke-width="1"/>
<line x1="697.1" y1="201.6" x2="697.1" y2="199.0" stroke="#444" stroke-width="1"/>
<line x1="697.1" y1="15.2" x2="697.1" y2="17.8" stroke="#444" stroke-width="1"/>
<line x1="755.2" y1="201.6" x2="755.2" y2="199.0" stroke="#444" stroke-width="1"/>
<line x1="755.2" y1="15.2" x2="755.2" y2="17.8" stroke="#444" stroke-width="1"/>
<line x1="813.4" y1="201.6" x2="813.4" y2="199.0" stroke="#444" stroke-width="1"/>
<line x1="813.4" y1="15.2" x2="813.4" y2="17.8" stroke="#444" stroke-width="1"/>
<line x1="842.4" y1="201.6" x2="842.4" y2="199.0" stroke="#444" stroke-width="1"/>
<line x1="842.4" y1="15.2" x2="842.4" y2="17.8" stroke="#444" stroke-width="1"/>
<line x1="871.5" y1="201.6" x2="871.5" y2="199.0" stroke="#444" stroke-width="1"/>
<line x1="871.5" y1="15.2" x2="871.5" y2="17.8" stroke="#444" stroke-width="1"/>
<line x1="929.6" y1="201.6" x2="929.6" y2="199.0" stroke="#444" stroke-width="1"/>
<line x1="929.6" y1="15.2" x2="929.6" y2="17.8" stroke="#444" stroke-width="1"/>
<line x1="987.8" y1="201.6" x2="987.8" y2="199.0" stroke="#444" stroke-width="1"/>
<line x1="987.8" y1="15.2" x2="987.8" y2="17.8" stroke="#444" stroke-width="1"/>
<rect x="665.8" y="216.3" width="350.70000000000005" height="186.89999999999998" fill="none" stroke="#444" stroke-width="1.1"/>
<line x1="665.8" y1="216.3" x2="668.5999999999999" y2="216.3" stroke="#444" stroke-width="1"/>
<line x1="1016.5" y1="216.3" x2="1013.7" y2="216.3" stroke="#444" stroke-width="1"/>
<text x="661.8" y="221.8" font-size="10.3" text-anchor="end" fill="#3a3a3a">10<tspan dy="-4.3" dx="0.8" font-size="9.3">2</tspan></text>
<line x1="665.8" y1="249.0" x2="667.5999999999999" y2="249.0" stroke="#777" stroke-width="0.5"/>
<line x1="1016.5" y1="249.0" x2="1014.7" y2="249.0" stroke="#777" stroke-width="0.5"/>
<line x1="665.8" y1="240.7" x2="667.5999999999999" y2="240.7" stroke="#777" stroke-width="0.5"/>
<line x1="1016.5" y1="240.7" x2="1014.7" y2="240.7" stroke="#777" stroke-width="0.5"/>
<line x1="665.8" y1="234.9" x2="667.5999999999999" y2="234.9" stroke="#777" stroke-width="0.5"/>
<line x1="1016.5" y1="234.9" x2="1014.7" y2="234.9" stroke="#777" stroke-width="0.5"/>
<line x1="665.8" y1="230.4" x2="667.5999999999999" y2="230.4" stroke="#777" stroke-width="0.5"/>
<line x1="1016.5" y1="230.4" x2="1014.7" y2="230.4" stroke="#777" stroke-width="0.5"/>
<line x1="665.8" y1="226.7" x2="667.5999999999999" y2="226.7" stroke="#777" stroke-width="0.5"/>
<line x1="1016.5" y1="226.7" x2="1014.7" y2="226.7" stroke="#777" stroke-width="0.5"/>
<line x1="665.8" y1="223.5" x2="667.5999999999999" y2="223.5" stroke="#777" stroke-width="0.5"/>
<line x1="1016.5" y1="223.5" x2="1014.7" y2="223.5" stroke="#777" stroke-width="0.5"/>
<line x1="665.8" y1="220.8" x2="667.5999999999999" y2="220.8" stroke="#777" stroke-width="0.5"/>
<line x1="1016.5" y1="220.8" x2="1014.7" y2="220.8" stroke="#777" stroke-width="0.5"/>
<line x1="665.8" y1="218.4" x2="667.5999999999999" y2="218.4" stroke="#777" stroke-width="0.5"/>
<line x1="1016.5" y1="218.4" x2="1014.7" y2="218.4" stroke="#777" stroke-width="0.5"/>
<line x1="665.8" y1="263.0" x2="668.5999999999999" y2="263.0" stroke="#444" stroke-width="1"/>
<line x1="1016.5" y1="263.0" x2="1013.7" y2="263.0" stroke="#444" stroke-width="1"/>
<text x="661.8" y="268.5" font-size="10.3" text-anchor="end" fill="#3a3a3a">10<tspan dy="-4.3" dx="0.8" font-size="9.3">1</tspan></text>
<line x1="665.8" y1="295.7" x2="667.5999999999999" y2="295.7" stroke="#777" stroke-width="0.5"/>
<line x1="1016.5" y1="295.7" x2="1014.7" y2="295.7" stroke="#777" stroke-width="0.5"/>
<line x1="665.8" y1="287.5" x2="667.5999999999999" y2="287.5" stroke="#777" stroke-width="0.5"/>
<line x1="1016.5" y1="287.5" x2="1014.7" y2="287.5" stroke="#777" stroke-width="0.5"/>
<line x1="665.8" y1="281.6" x2="667.5999999999999" y2="281.6" stroke="#777" stroke-width="0.5"/>
<line x1="1016.5" y1="281.6" x2="1014.7" y2="281.6" stroke="#777" stroke-width="0.5"/>
<line x1="665.8" y1="277.1" x2="667.5999999999999" y2="277.1" stroke="#777" stroke-width="0.5"/>
<line x1="1016.5" y1="277.1" x2="1014.7" y2="277.1" stroke="#777" stroke-width="0.5"/>
<line x1="665.8" y1="273.4" x2="667.5999999999999" y2="273.4" stroke="#777" stroke-width="0.5"/>
<line x1="1016.5" y1="273.4" x2="1014.7" y2="273.4" stroke="#777" stroke-width="0.5"/>
<line x1="665.8" y1="270.3" x2="667.5999999999999" y2="270.3" stroke="#777" stroke-width="0.5"/>
<line x1="1016.5" y1="270.3" x2="1014.7" y2="270.3" stroke="#777" stroke-width="0.5"/>
<line x1="665.8" y1="267.6" x2="667.5999999999999" y2="267.6" stroke="#777" stroke-width="0.5"/>
<line x1="1016.5" y1="267.6" x2="1014.7" y2="267.6" stroke="#777" stroke-width="0.5"/>
<line x1="665.8" y1="265.2" x2="667.5999999999999" y2="265.2" stroke="#777" stroke-width="0.5"/>
<line x1="1016.5" y1="265.2" x2="1014.7" y2="265.2" stroke="#777" stroke-width="0.5"/>
<line x1="665.8" y1="309.8" x2="668.5999999999999" y2="309.8" stroke="#444" stroke-width="1"/>
<line x1="1016.5" y1="309.8" x2="1013.7" y2="309.8" stroke="#444" stroke-width="1"/>
<text x="661.8" y="315.2" font-size="10.3" text-anchor="end" fill="#3a3a3a">10<tspan dy="-4.3" dx="0.8" font-size="9.3">0</tspan></text>
<line x1="665.8" y1="342.4" x2="667.5999999999999" y2="342.4" stroke="#777" stroke-width="0.5"/>
<line x1="1016.5" y1="342.4" x2="1014.7" y2="342.4" stroke="#777" stroke-width="0.5"/>
<line x1="665.8" y1="334.2" x2="667.5999999999999" y2="334.2" stroke="#777" stroke-width="0.5"/>
<line x1="1016.5" y1="334.2" x2="1014.7" y2="334.2" stroke="#777" stroke-width="0.5"/>
<line x1="665.8" y1="328.3" x2="667.5999999999999" y2="328.3" stroke="#777" stroke-width="0.5"/>
<line x1="1016.5" y1="328.3" x2="1014.7" y2="328.3" stroke="#777" stroke-width="0.5"/>
<line x1="665.8" y1="323.8" x2="667.5999999999999" y2="323.8" stroke="#777" stroke-width="0.5"/>
<line x1="1016.5" y1="323.8" x2="1014.7" y2="323.8" stroke="#777" stroke-width="0.5"/>
<line x1="665.8" y1="320.1" x2="667.5999999999999" y2="320.1" stroke="#777" stroke-width="0.5"/>
<line x1="1016.5" y1="320.1" x2="1014.7" y2="320.1" stroke="#777" stroke-width="0.5"/>
<line x1="665.8" y1="317.0" x2="667.5999999999999" y2="317.0" stroke="#777" stroke-width="0.5"/>
<line x1="1016.5" y1="317.0" x2="1014.7" y2="317.0" stroke="#777" stroke-width="0.5"/>
<line x1="665.8" y1="314.3" x2="667.5999999999999" y2="314.3" stroke="#777" stroke-width="0.5"/>
<line x1="1016.5" y1="314.3" x2="1014.7" y2="314.3" stroke="#777" stroke-width="0.5"/>
<line x1="665.8" y1="311.9" x2="667.5999999999999" y2="311.9" stroke="#777" stroke-width="0.5"/>
<line x1="1016.5" y1="311.9" x2="1014.7" y2="311.9" stroke="#777" stroke-width="0.5"/>
<line x1="665.8" y1="356.5" x2="668.5999999999999" y2="356.5" stroke="#444" stroke-width="1"/>
<line x1="1016.5" y1="356.5" x2="1013.7" y2="356.5" stroke="#444" stroke-width="1"/>
<text x="661.8" y="362.0" font-size="10.3" text-anchor="end" fill="#3a3a3a">10<tspan dy="-4.3" dx="0.8" font-size="9.3">-1</tspan></text>
<line x1="665.8" y1="389.1" x2="667.5999999999999" y2="389.1" stroke="#777" stroke-width="0.5"/>
<line x1="1016.5" y1="389.1" x2="1014.7" y2="389.1" stroke="#777" stroke-width="0.5"/>
<line x1="665.8" y1="380.9" x2="667.5999999999999" y2="380.9" stroke="#777" stroke-width="0.5"/>
<line x1="1016.5" y1="380.9" x2="1014.7" y2="380.9" stroke="#777" stroke-width="0.5"/>
<line x1="665.8" y1="375.1" x2="667.5999999999999" y2="375.1" stroke="#777" stroke-width="0.5"/>
<line x1="1016.5" y1="375.1" x2="1014.7" y2="375.1" stroke="#777" stroke-width="0.5"/>
<line x1="665.8" y1="370.5" x2="667.5999999999999" y2="370.5" stroke="#777" stroke-width="0.5"/>
<line x1="1016.5" y1="370.5" x2="1014.7" y2="370.5" stroke="#777" stroke-width="0.5"/>
<line x1="665.8" y1="366.8" x2="667.5999999999999" y2="366.8" stroke="#777" stroke-width="0.5"/>
<line x1="1016.5" y1="366.8" x2="1014.7" y2="366.8" stroke="#777" stroke-width="0.5"/>
<line x1="665.8" y1="363.7" x2="667.5999999999999" y2="363.7" stroke="#777" stroke-width="0.5"/>
<line x1="1016.5" y1="363.7" x2="1014.7" y2="363.7" stroke="#777" stroke-width="0.5"/>
<line x1="665.8" y1="361.0" x2="667.5999999999999" y2="361.0" stroke="#777" stroke-width="0.5"/>
<line x1="1016.5" y1="361.0" x2="1014.7" y2="361.0" stroke="#777" stroke-width="0.5"/>
<line x1="665.8" y1="358.6" x2="667.5999999999999" y2="358.6" stroke="#777" stroke-width="0.5"/>
<line x1="1016.5" y1="358.6" x2="1014.7" y2="358.6" stroke="#777" stroke-width="0.5"/>
<line x1="665.8" y1="403.2" x2="668.5999999999999" y2="403.2" stroke="#444" stroke-width="1"/>
<line x1="1016.5" y1="403.2" x2="1013.7" y2="403.2" stroke="#444" stroke-width="1"/>
<text x="661.8" y="408.7" font-size="10.3" text-anchor="end" fill="#3a3a3a">10<tspan dy="-4.3" dx="0.8" font-size="9.3">-2</tspan></text>
<line x1="668.0" y1="403.2" x2="668.0" y2="400.59999999999997" stroke="#444" stroke-width="1"/>
<line x1="668.0" y1="216.3" x2="668.0" y2="218.9" stroke="#444" stroke-width="1"/>
<line x1="697.1" y1="403.2" x2="697.1" y2="400.59999999999997" stroke="#444" stroke-width="1"/>
<line x1="697.1" y1="216.3" x2="697.1" y2="218.9" stroke="#444" stroke-width="1"/>
<line x1="755.2" y1="403.2" x2="755.2" y2="400.59999999999997" stroke="#444" stroke-width="1"/>
<line x1="755.2" y1="216.3" x2="755.2" y2="218.9" stroke="#444" stroke-width="1"/>
<line x1="813.4" y1="403.2" x2="813.4" y2="400.59999999999997" stroke="#444" stroke-width="1"/>
<line x1="813.4" y1="216.3" x2="813.4" y2="218.9" stroke="#444" stroke-width="1"/>
<line x1="842.4" y1="403.2" x2="842.4" y2="400.59999999999997" stroke="#444" stroke-width="1"/>
<line x1="842.4" y1="216.3" x2="842.4" y2="218.9" stroke="#444" stroke-width="1"/>
<line x1="871.5" y1="403.2" x2="871.5" y2="400.59999999999997" stroke="#444" stroke-width="1"/>
<line x1="871.5" y1="216.3" x2="871.5" y2="218.9" stroke="#444" stroke-width="1"/>
<line x1="929.6" y1="403.2" x2="929.6" y2="400.59999999999997" stroke="#444" stroke-width="1"/>
<line x1="929.6" y1="216.3" x2="929.6" y2="218.9" stroke="#444" stroke-width="1"/>
<line x1="987.8" y1="403.2" x2="987.8" y2="400.59999999999997" stroke="#444" stroke-width="1"/>
<line x1="987.8" y1="216.3" x2="987.8" y2="218.9" stroke="#444" stroke-width="1"/>
<rect x="842.4" y="13.7" width="29.1" height="187.9" fill="#be97c6" stroke="#5a4a60" stroke-width="0.8"/>
<text transform="translate(862,108.3) rotate(-90)" font-size="13.5" text-anchor="middle" fill="#7E2F8E">HTS along the NH direction</text>
<text x="668.0" y="417.6" font-size="10.3" text-anchor="middle" fill="#3a3a3a">10</text>
<text x="697.1" y="417.6" font-size="10.3" text-anchor="middle" fill="#3a3a3a">20</text>
<text x="755.2" y="417.6" font-size="10.3" text-anchor="middle" fill="#3a3a3a">40</text>
<text x="813.4" y="417.6" font-size="10.3" text-anchor="middle" fill="#3a3a3a">60</text>
<text x="842.4" y="417.6" font-size="10.3" text-anchor="middle" fill="#3a3a3a">70</text>
<text x="871.5" y="417.6" font-size="10.3" text-anchor="middle" fill="#3a3a3a">80</text>
<text x="929.6" y="417.6" font-size="10.3" text-anchor="middle" fill="#3a3a3a">100</text>
<text x="987.8" y="417.6" font-size="10.3" text-anchor="middle" fill="#3a3a3a">120</text>
<text x="841.5" y="432.8" font-size="11.9" text-anchor="middle" fill="#262626">Distance [au]</text>
<text transform="translate(635.3,216.7) rotate(-90)" font-size="16.4" text-anchor="middle" fill="#262626">Plasma beta</text>
<text x="767.4" y="30.8" font-size="16.1" text-anchor="middle" fill="#111">NH</text>
<text x="770.6" y="232" font-size="16.3" text-anchor="middle" fill="#111">P10</text>
<line x1="869.8" y1="30.6" x2="895.3" y2="30.6" stroke="#7E2F8E" stroke-width="2.4"/>
<text x="898.1999999999999" y="34.2" font-size="9.7" fill="#262626">proton</text>
<line x1="869.8" y1="45" x2="895.3" y2="45" stroke="#EDB120" stroke-width="1.4"/>
<text x="898.1999999999999" y="48.6" font-size="9.7" fill="#262626">electron</text>
<line x1="944.4" y1="30.6" x2="970.5" y2="30.6" stroke="#D95319" stroke-width="2.2"/>
<text x="973.5" y="34.2" font-size="9.7" fill="#262626">H<tspan dy="-4" dx="0.5" font-size="8.5">+</tspan><tspan dy="4"> PUI</tspan></text>
<line x1="944.4" y1="45" x2="970.5" y2="45" stroke="#77AC30" stroke-width="1.6"/>
<text x="973.5" y="48.6" font-size="9.7" fill="#262626">ISN H</text>
</svg>
</body></html>
